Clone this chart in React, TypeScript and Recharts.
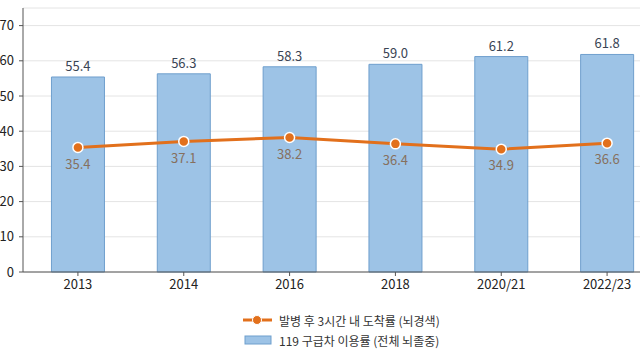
import { ComposedChart, Bar, Line, XAxis, YAxis, CartesianGrid, Legend, LabelList } from 'recharts';

const years = ['2013', '2014', '2016', '2018', '2020/21', '2022/23'];
const ambulanceUse = [55.4, 56.3, 58.3, 59.0, 61.2, 61.8];
const arrivalWithin3h = [35.4, 37.1, 38.2, 36.4, 34.9, 36.6];
const yTicks = [0, 10, 20, 30, 40, 50, 60, 70];

const lineName = '발병 후 3시간 내 도착률 (뇌경색)';
const barName = '119 구급차 이용률 (전체 뇌졸중)';

const data = years.map((year, i) => ({
  year,
  ambulance: ambulanceUse[i],
  arrival: arrivalWithin3h[i],
}));

const FONT = '"Noto Sans CJK KR", "Noto Sans", sans-serif';
const ORANGE = '#E2701C';
const BAR_FILL = '#9DC3E6';
const BAR_STROKE = '#6F9FCD';

const LegendBox = () => (
  <div style={{ height: 40, fontFamily: FONT, fontSize: 12, color: '#333' }}>
    <div style={{ display: 'flex', alignItems: 'center', height: 20 }}>
      <svg width={36} height={12} style={{ marginRight: 1 }}>
        <line x1={1} y1={6} x2={30} y2={6} stroke={ORANGE} strokeWidth={3} />
        <circle cx={15} cy={6} r={4.5} fill={ORANGE} stroke="#fff" strokeWidth={1} />
      </svg>
      <span>{lineName}</span>
    </div>
    <div style={{ display: 'flex', alignItems: 'center', height: 20 }}>
      <svg width={36} height={12} style={{ marginRight: 1 }}>
        <rect x={3} y={2} width={26} height={8} fill={BAR_FILL} stroke={BAR_STROKE} strokeWidth={1} />
      </svg>
      <span>{barName}</span>
    </div>
  </div>
);

const App = () => {
  return (
    <div style={{ position: 'fixed', top: 0, left: 0, width: 640, height: 360, overflow: 'hidden', background: '#fff' }}>
      <ComposedChart
        width={660}
        height={360}
        data={data}
        margin={{ top: 8, right: 0, left: 0, bottom: 10 }}
        barCategoryGap="25%"
        style={{ fontFamily: FONT }}
      >
        <CartesianGrid vertical={false} stroke="#e4e4e4" />
        <XAxis
          dataKey="year"
          height={38}
          padding={{ left: 2, right: 0 }}
          tick={{ fontSize: 13, fill: '#222' }}
          tickSize={4}
          tickMargin={4}
          stroke="#555"
        />
        <YAxis
          width={23}
          domain={[0, 75]}
          ticks={yTicks}
          interval={0}
          tick={{ fontSize: 13, fill: '#222' }}
          tickSize={4}
          tickMargin={5}
          stroke="#555"
        />
        <Legend
          verticalAlign="bottom"
          align="left"
          wrapperStyle={{ left: 242, width: 'auto' }}
          content={() => <LegendBox />}
        />
        <Bar
          dataKey="ambulance"
          name={barName}
          fill={BAR_FILL}
          stroke={BAR_STROKE}
          strokeWidth={1}
          isAnimationActive={false}
        >
          <LabelList dataKey="ambulance" position="top" offset={6} fontSize={13} fill="#3A4454" formatter={(v: number) => v.toFixed(1)} />
        </Bar>
        <Line
          dataKey="arrival"
          name={lineName}
          type="linear"
          stroke={ORANGE}
          strokeWidth={3}
          dot={{ r: 5, fill: ORANGE, stroke: '#fff', strokeWidth: 1.5 }}
          activeDot={false}
          isAnimationActive={false}
        >
          <LabelList dataKey="arrival" position="bottom" offset={12} fontSize={13} fill="#86705E" formatter={(v: number) => v.toFixed(1)} />
        </Line>
      </ComposedChart>
    </div>
  );
};

export default App;
